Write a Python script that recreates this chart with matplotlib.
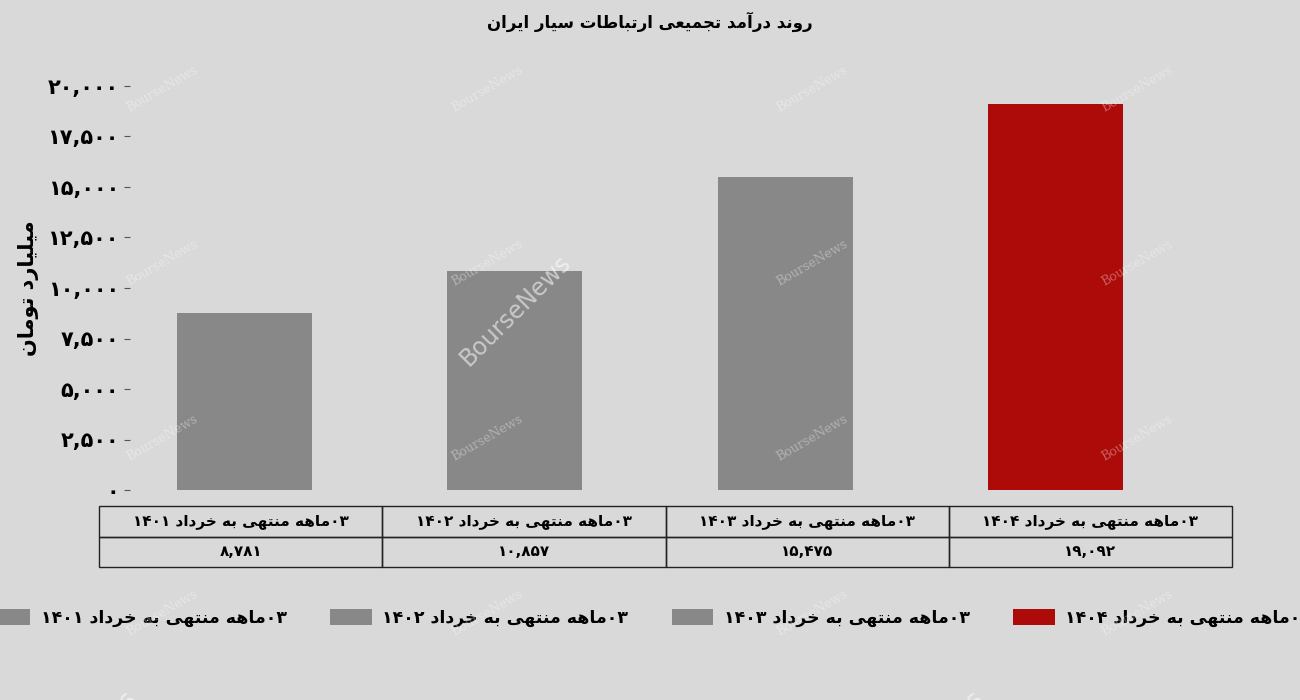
import re
import matplotlib
matplotlib.use("Agg")
import matplotlib.pyplot as plt
from matplotlib.patches import Patch

# ---------------- data ----------------
title = "روند درآمد تجمیعی ارتباطات سیار ایران"
ylabel = "میلیارد تومان"
categories = [
    "۰۳ماهه منتهی به خرداد ۱۴۰۱",
    "۰۳ماهه منتهی به خرداد ۱۴۰۲",
    "۰۳ماهه منتهی به خرداد ۱۴۰۳",
    "۰۳ماهه منتهی به خرداد ۱۴۰۴",
]
values = [8781, 10857, 15475, 19092]
value_labels = ["۸,۷۸۱", "۱۰,۸۵۷", "۱۵,۴۷۵", "۱۹,۰۹۲"]
yticks = [0, 2500, 5000, 7500, 10000, 12500, 15000, 17500, 20000]
ytick_labels = ["۰", "۲,۵۰۰", "۵,۰۰۰", "۷,۵۰۰", "۱۰,۰۰۰", "۱۲,۵۰۰", "۱۵,۰۰۰", "۱۷,۵۰۰", "۲۰,۰۰۰"]
bar_colors = ["#888888", "#888888", "#888888", "#ad0a0a"]
watermark = "BourseNews"

# ---------------- simple Persian shaping ----------------
DUAL = {
    'ب': (0xFE8F, 0xFE90, 0xFE91, 0xFE92),
    'ت': (0xFE95, 0xFE96, 0xFE97, 0xFE98),
    'ج': (0xFE9D, 0xFE9E, 0xFE9F, 0xFEA0),
    'خ': (0xFEA5, 0xFEA6, 0xFEA7, 0xFEA8),
    'س': (0xFEB1, 0xFEB2, 0xFEB3, 0xFEB4),
    'ط': (0xFEC1, 0xFEC2, 0xFEC3, 0xFEC4),
    'ع': (0xFEC9, 0xFECA, 0xFECB, 0xFECC),
    'ل': (0xFEDD, 0xFEDE, 0xFEDF, 0xFEE0),
    'م': (0xFEE1, 0xFEE2, 0xFEE3, 0xFEE4),
    'ن': (0xFEE5, 0xFEE6, 0xFEE7, 0xFEE8),
    'ه': (0xFEE9, 0xFEEA, 0xFEEB, 0xFEEC),
    'ی': (0xFEEF, 0xFEF0, 0xFEF3, 0xFEF4),
}
RIGHT = {
    'ا': (0xFE8D, 0xFE8E),
    'آ': (0xFE81, 0xFE82),
    'د': (0xFEA9, 0xFEAA),
    'ر': (0xFEAD, 0xFEAE),
    'و': (0xFEED, 0xFEEE),
}


def fa(s):
    out = []
    for i, c in enumerate(s):
        if c in DUAL or c in RIGHT:
            prev = s[i - 1] if i > 0 else ''
            nxt = s[i + 1] if i + 1 < len(s) else ''
            jp = prev in DUAL
            if c in RIGHT:
                out.append(chr(RIGHT[c][1] if jp else RIGHT[c][0]))
            else:
                jn = nxt in DUAL or nxt in RIGHT
                f = DUAL[c]
                if jp and jn:
                    out.append(chr(f[3]))
                elif jp:
                    out.append(chr(f[1]))
                elif jn:
                    out.append(chr(f[2]))
                else:
                    out.append(chr(f[0]))
        else:
            out.append(c)
    shaped = "".join(out)
    tokens = re.findall(r"[0-9۰-۹][0-9۰-۹,\.]*|[^0-9۰-۹]+", shaped)
    vis = []
    for t in reversed(tokens):
        if re.match(r"[0-9۰-۹]", t):
            vis.append(t)
        else:
            vis.append(t[::-1])
    return "".join(vis)


# ---------------- figure ----------------
plt.rcParams['font.family'] = ['DejaVu Sans']
BG = "#d9d9d9"
W, H = 1300, 700
fig = plt.figure(figsize=(13, 7), dpi=100, facecolor=BG)

ax_l, ax_r, ax_t, ax_b = 130, 1232, 86, 490
ax = fig.add_axes([ax_l / W, 1 - ax_b / H, (ax_r - ax_l) / W, (ax_b - ax_t) / H])
ax.set_facecolor(BG)

x = list(range(len(values)))
ax.bar(x, values, width=0.5, color=bar_colors, zorder=2)

scale = 270.33
ax.set_xlim(-(244.5 - ax_l) / scale, 3 + (ax_r - 1055.5) / scale)
ax.set_ylim(0, 20000)
ax.set_xticks([])
ax.set_yticks(yticks)
ax.set_yticklabels(ytick_labels, fontsize=15, fontweight='bold')
ax.tick_params(axis='y', length=4, width=0.8, color="#555555", pad=4)
for sp in ax.spines.values():
    sp.set_visible(False)

ax.set_ylabel(fa(ylabel), fontsize=15, fontweight='bold', labelpad=6)

fig.text(0.5, 1 - 22 / H, fa(title), ha='center', va='center',
         fontsize=12, fontweight='bold')

# table
tw = ax_r - ax_l
th = ax_b - ax_t
tbl = ax.table(cellText=[[fa(c) for c in categories], value_labels],
               cellLoc='center',
               bbox=[(99 - ax_l) / tw, (ax_b - 567) / th, (1232 - 99) / tw, 61 / th])
tbl.auto_set_font_size(False)
for (r, c), cell in tbl.get_celld().items():
    cell.set_facecolor("none")
    cell.set_edgecolor("#222222")
    cell.set_linewidth(1.0)
    cell.get_text().set_fontsize(11)
    cell.get_text().set_fontweight('bold')

# legend
handles = [Patch(facecolor=col, edgecolor='none') for col in bar_colors]
fig.legend(handles, [fa(c) for c in categories], loc='center', ncol=4,
           bbox_to_anchor=(0.5, 1 - 618 / H), frameon=False,
           prop={'size': 12.5, 'weight': 'bold'},
           handlelength=2.4, handleheight=1.0, handletextpad=0.6,
           columnspacing=2.5)

# watermarks
for yy in [89, 263, 438, 613]:
    for xx in [162, 487, 812, 1137]:
        fig.text(xx / W, 1 - yy / H, watermark, ha='center', va='center',
                 rotation=30, fontsize=9, family='DejaVu Serif',
                 color='white', alpha=0.35, zorder=10)
fig.text(515 / W, 1 - 310 / H, watermark, ha='center', va='center',
         rotation=45, fontsize=17, color='white', alpha=0.55, zorder=10)
for xx in [80, 927]:
    fig.text(xx / W, 1 - 745 / H, watermark, ha='center', va='center',
             rotation=45, fontsize=17, color='white', alpha=0.55, zorder=10)

fig.savefig("out.png", dpi=100, facecolor=BG)
